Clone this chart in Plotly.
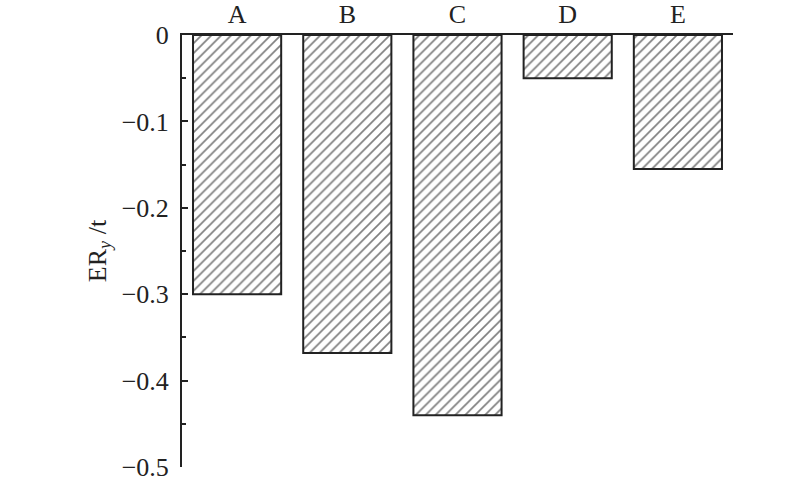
import plotly.graph_objects as go

categories = ["A", "B", "C", "D", "E"]
values = [-0.300, -0.368, -0.440, -0.050, -0.155]
tick_vals = [0, -0.1, -0.2, -0.3, -0.4, -0.5]
tick_text = ["0", "\u22120.1", "\u22120.2", "\u22120.3", "\u22120.4", "\u22120.5"]

font_family = "Liberation Serif, Times New Roman, serif"
axis_color = "#222222"

fig = go.Figure(go.Bar(
    x=categories,
    y=values,
    hoverinfo="skip",
    marker=dict(
        color="white",
        line=dict(color=axis_color, width=2),
        pattern=dict(shape="/", fgcolor="#000000", bgcolor="white", size=7, solidity=0.24),
    ),
))

fig.update_layout(
    width=800, height=486,
    margin=dict(l=182, r=67, t=35, b=19),
    paper_bgcolor="white",
    plot_bgcolor="white",
    bargap=0.2,
    showlegend=False,
    font=dict(family=font_family, size=26, color="#222222"),
    xaxis=dict(
        side="top", automargin=False,
        showline=True, linecolor=axis_color, linewidth=2,
        ticks="", showgrid=False, zeroline=False,
        tickfont=dict(size=26),
    ),
    yaxis=dict(
        range=[-0.5, 0], automargin=False,
        tickvals=tick_vals, ticktext=tick_text,
        showline=True, linecolor=axis_color, linewidth=2,
        ticks="inside", ticklen=6, tickwidth=2, tickcolor=axis_color,
        ticklabelstandoff=6,
        minor=dict(ticks="inside", dtick=0.05, ticklen=4, tickwidth=1.5, tickcolor=axis_color, showgrid=False),
        showgrid=False, zeroline=False,
        tickfont=dict(size=26),
        title=dict(text="ER<sub><i>y</i></sub> /t", font=dict(size=26), standoff=8),
    ),
)

fig.write_html("out.html", config={"displayModeBar": False},
               post_script="document.body.style.margin='0';document.body.style.padding='0';")
